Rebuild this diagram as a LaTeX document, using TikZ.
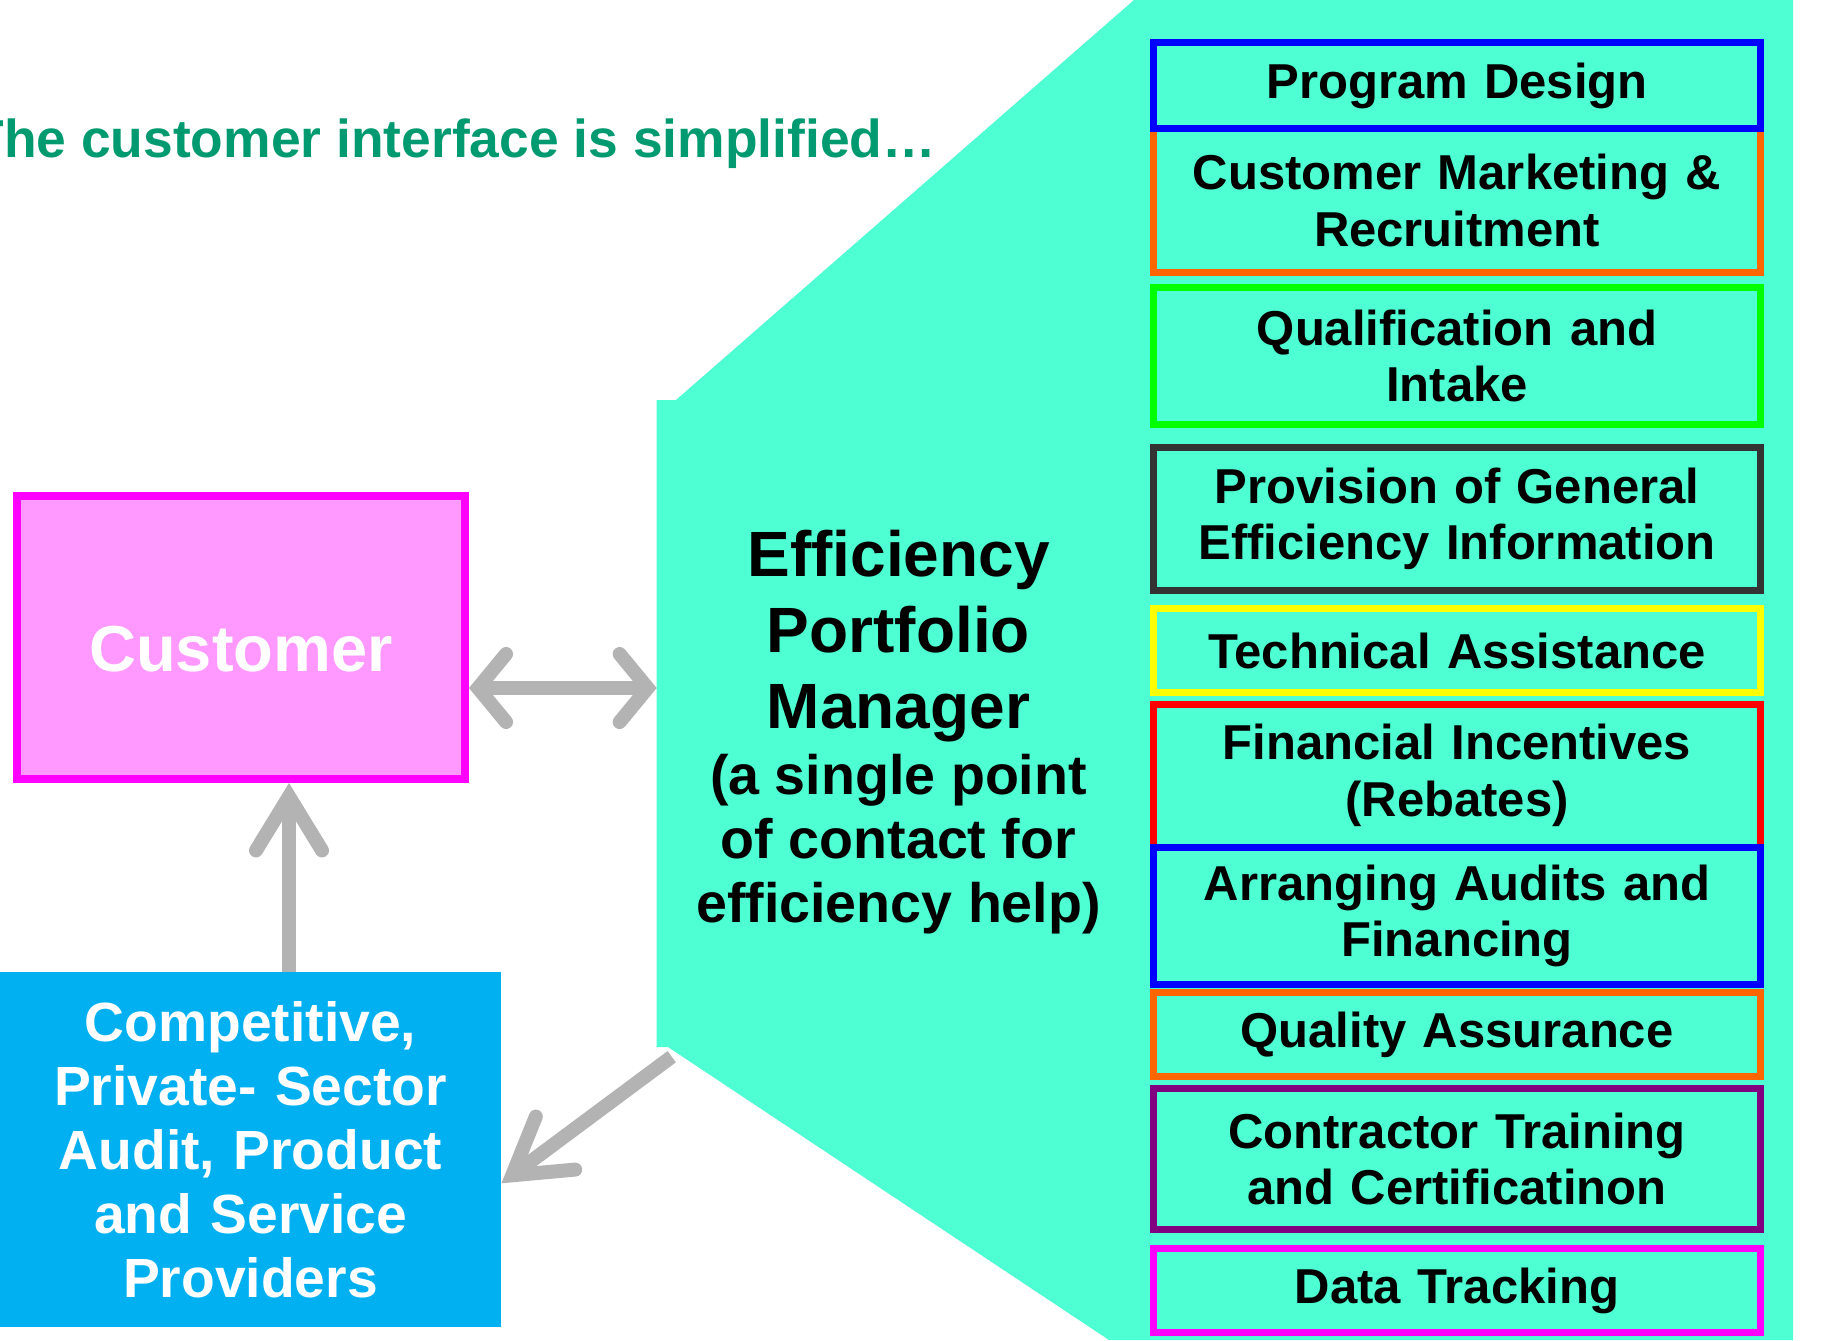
\documentclass[tikz,border=0pt]{standalone}
\usepackage{fontspec}
\setmainfont{Liberation Sans}
\usetikzlibrary{arrows.meta}
\definecolor{epm}{HTML}{4DFFD2}
\definecolor{custfill}{HTML}{FF99FF}
\definecolor{custline}{HTML}{FF00FF}
\definecolor{provfill}{HTML}{00B0F0}
\definecolor{arrowgray}{HTML}{B3B3B3}
\definecolor{titlegreen}{HTML}{009A70}
\definecolor{cOrange}{HTML}{FF6600}
\definecolor{cGreen}{HTML}{00FF00}
\definecolor{cDark}{HTML}{333333}
\definecolor{cYellow}{HTML}{FFFF00}
\definecolor{cPurple}{HTML}{800080}
\newcommand{\smallepm}{\fontsize{27.8}{32}\selectfont}
\begin{document}
\begin{tikzpicture}[x=0.5pt,y=-0.5pt,
  svc/.style={draw, line width=3.5pt, fill=epm, minimum width=303.5pt,
    text width=295pt, align=center, inner sep=0pt, text=black,
    font=\fontsize{24.5}{28.2}\selectfont\bfseries},
  custbox/.style={draw=custline, fill=custfill, line width=4pt,
    minimum width=224pt, minimum height=141.5pt, inner sep=0pt, text=white,
    font=\fontsize{32.5}{39}\selectfont\bfseries, text height=34.3pt, text depth=0pt},
  provbox/.style={fill=provfill, minimum width=250.5pt, minimum height=177.5pt,
    inner sep=0pt, text=white, text width=245pt, align=center,
    font=\fontsize{27.6}{32}\selectfont\bfseries},
  garrow/.style={draw=arrowgray, line width=7pt},
  barbH/.tip={Straight Barb[length=14pt,width=34pt,line cap=round,line join=miter]},
  barbV/.tip={Straight Barb[length=27pt,width=33pt,line cap=round,line join=miter]}
]
\fill[white] (0,0) rectangle (1825,1340);
\useasboundingbox (0,0) rectangle (1825,1340);

% title
\node[anchor=base west, inner sep=0pt, text=titlegreen,
  font=\fontsize{26.7}{32}\selectfont\bfseries] (title) at (-29,157.5)
  {The customer interface is simplified…};

% efficiency portfolio manager shape
\fill[epm] (656.7,400) -- (676,400) -- (1134,0) -- (1793,0) -- (1793,1340)
  -- (1109,1340) -- (668,1047) -- (656.7,1047) -- cycle;
\coordinate (epmL) at (656.7,688);
\coordinate (epmC) at (671.7,1056.7);
\coordinate (upx) at (289,0);

\node[align=center, inner sep=0pt, text=black,
  font=\fontsize{32}{32}\selectfont\bfseries] (epmtext) at (898.5,732)
  {Efficiency\\[6.2pt]Portfolio\\[6.2pt]Manager\\[1pt]%
   \smallepm (a single point\\\smallepm of contact for\\\smallepm efficiency help)};

% service boxes
\node[svc, draw=cOrange, minimum height=72pt] (b2) at (1457,200.5) {Customer Marketing \&\\Recruitment};
\node[svc, draw=blue, minimum height=43pt] (b1) at (1457,85.5) {\raisebox{-2pt}{Program Design}};
\node[svc, draw=cGreen, minimum height=68.5pt] (b3) at (1457,356) {Qualification and\\Intake};
\node[svc, draw=cDark, minimum height=71.5pt] (b4) at (1457,519) {Provision of General\\Efficiency Information};
\node[svc, draw=cYellow, minimum height=42pt] (b5) at (1457,650.5) {Technical Assistance};
\node[svc, draw=red, minimum height=71.5pt] (b6) at (1457,775.5) {Financial Incentives\\(Rebates)};
\node[svc, draw=blue, minimum height=68.5pt] (b7) at (1457,916) {Arranging Audits and\\Financing};
\node[svc, draw=cOrange, minimum height=42pt] (b8) at (1457,1034.5) {Quality Assurance};
\node[svc, draw=cPurple, minimum height=70.5pt] (b9) at (1457,1159) {Contractor Training\\and Certificatinon};
\node[svc, draw=custline, minimum height=42pt] (b10) at (1457,1290.5) {Data Tracking};

% left boxes
\node[custbox] (cust) at (241,637.5) {Customer};
\node[provbox] (prov) at (250.5,1149.5) {Competitive,\\Private- Sector\\Audit, Product\\and Service\\Providers};

% arrows
\draw[garrow, barbH-barbH] ([yshift=-25.25pt]cust.east) -- (epmL);
\draw[garrow, -barbV] (prov.north -| upx) -- (cust.south -| upx);
\draw[garrow, -barbV] (epmC) -- ([yshift=-16.9pt]prov.east);
\end{tikzpicture}
\end{document}
